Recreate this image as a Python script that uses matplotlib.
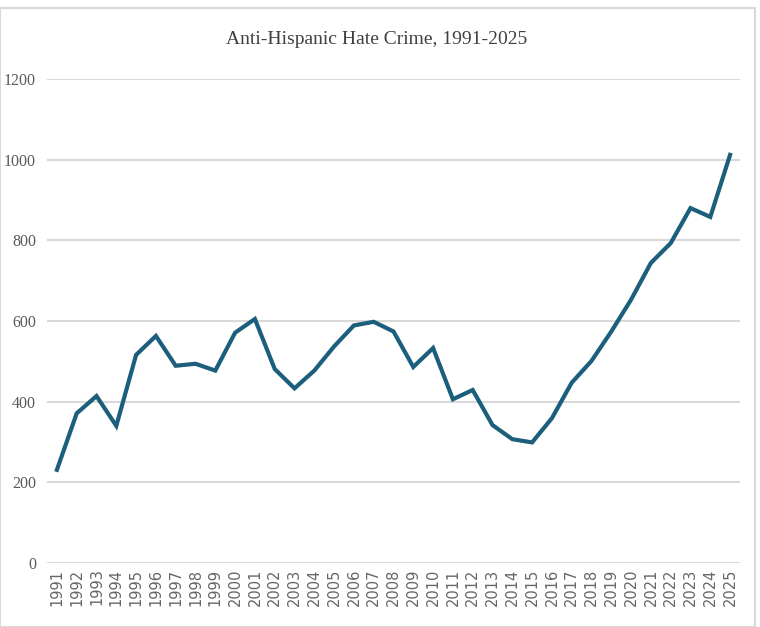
import matplotlib.pyplot as plt
from matplotlib.patches import Rectangle

years = [str(y) for y in range(1991, 2026)]
incidents = [231, 371, 414, 340, 516, 563, 489, 494, 477, 571,
             605, 481, 433, 477, 537, 589, 598, 574, 486, 533,
             406, 429, 342, 307, 299, 359, 447, 501, 574, 653,
             744, 793, 880, 858, 1012]

fig = plt.figure(figsize=(7.6, 6.27), dpi=100)
ax = fig.add_axes([47 / 760, 1 - 563 / 627, 693 / 760, 484 / 627])

# chart border like the spreadsheet frame
fig.patches.append(Rectangle((0.0, 0.0), 755 / 760, 1 - 8 / 627, transform=fig.transFigure,
                             fill=False, edgecolor='#d9d9d9', linewidth=1.5))

x = list(range(len(years)))
ax.plot(x, incidents, color='#1c5f7d', linewidth=3, solid_joinstyle='miter')

ax.set_xlim(-0.5, len(years) - 0.5)
ax.set_ylim(0, 1200)
ax.set_yticks(range(0, 1201, 200))
ax.set_yticklabels([str(v) for v in range(0, 1201, 200)],
                   fontfamily='Liberation Serif', fontsize=11.5, color='#595959')
ax.set_xticks(x)
ax.set_xticklabels(years, rotation=90, fontfamily='DejaVu Sans', fontsize=10.5, color='#666666')
ax.tick_params(length=0, pad=8)
ax.tick_params(axis='x', pad=4)

ax.grid(axis='y', color='#d9d9d9', linewidth=1.5)
ax.set_axisbelow(True)
for s in ax.spines.values():
    s.set_visible(False)

fig.text(377 / 760, 1 - 40 / 627, 'Anti-Hispanic Hate Crime, 1991-2025', ha='center', va='center',
         fontfamily='Liberation Serif', fontsize=14, color='#404040')

fig.savefig('out.png', dpi=100)
